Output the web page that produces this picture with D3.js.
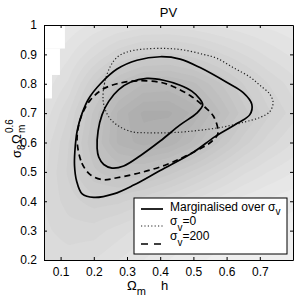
<!DOCTYPE html>
<html>
<head>
<meta charset="utf-8">
<script src="https://cdn.jsdelivr.net/npm/d3@7"></script>
<style>
  body { margin: 0; background: #fff; }
  text { font-family: "Liberation Sans", Arial, Helvetica, sans-serif; fill: #000; }
</style>
</head>
<body>
<svg id="chart" width="300" height="299"></svg>
<script>
// ticks
var xTicks = [0.1, 0.2, 0.3, 0.4, 0.5, 0.6, 0.7];
var yTicks = [0.2, 0.3, 0.4, 0.5, 0.6, 0.7, 0.8, 0.9, 1];

// background shading, grey level
// columns at Omega_m h = 0.05, 0.125, ... 0.8 ; rows at sigma8 Om^0.6 = 1.0 down to 0.2
var shadeX = [0.05, 0.125, 0.2, 0.275, 0.35, 0.425, 0.5, 0.575, 0.65, 0.725, 0.8];
var shadeY = [1.0, 0.9, 0.8, 0.7, 0.6, 0.5, 0.4, 0.3, 0.2];
var shadeGrey = [
  [235, 232, 228, 225, 223, 223, 224, 226, 228, 230, 232],
  [232, 226, 218, 210, 205, 204, 207, 212, 217, 222, 226],
  [228, 220, 205, 192, 185, 184, 188, 196, 205, 213, 219],
  [224, 213, 196, 180, 172, 172, 178, 188, 199, 208, 215],
  [220, 209, 193, 180, 175, 178, 186, 197, 207, 215, 221],
  [218, 208, 198, 193, 194, 199, 206, 213, 220, 225, 229],
  [217, 211, 207, 208, 212, 217, 222, 227, 231, 234, 236],
  [218, 215, 215, 219, 223, 228, 232, 235, 237, 238, 239],
  [220, 219, 221, 225, 229, 233, 236, 238, 239, 240, 240]
];
// unshaded (white) steps in the top-left corner
var blankTop = [1.0, 0.92, 0.83];
var blankBottom = [0.92, 0.83, 0.75];
var blankRight = [0.113, 0.098, 0.074];

// contours
var margOuter = [[0.142,0.52],[0.143,0.57],[0.150,0.64],[0.165,0.70],[0.185,0.75],[0.22,0.80],[0.27,0.85],
  [0.33,0.88],[0.40,0.892],[0.46,0.884],[0.52,0.855],[0.60,0.805],[0.65,0.77],[0.676,0.73],[0.67,0.695],
  [0.635,0.667],[0.565,0.62],[0.50,0.567],[0.40,0.505],[0.32,0.455],[0.26,0.425],[0.20,0.413],
  [0.165,0.425],[0.148,0.47]];
var margInner = [[0.21,0.58],[0.213,0.64],[0.225,0.695],[0.245,0.74],[0.275,0.78],[0.31,0.805],[0.36,0.818],
  [0.41,0.812],[0.46,0.795],[0.495,0.775],[0.518,0.75],[0.528,0.728],[0.51,0.70],[0.46,0.66],[0.40,0.605],
  [0.34,0.555],[0.29,0.52],[0.255,0.513],[0.23,0.525],[0.215,0.55]];
var sigma0 = [[0.228,0.745],[0.232,0.80],[0.249,0.857],[0.27,0.89],[0.30,0.908],[0.35,0.918],[0.42,0.92],
  [0.47,0.915],[0.53,0.90],[0.57,0.887],[0.62,0.855],[0.67,0.823],[0.70,0.795],[0.73,0.765],[0.74,0.735],
  [0.73,0.705],[0.70,0.685],[0.655,0.67],[0.60,0.655],[0.55,0.646],[0.48,0.637],[0.42,0.633],[0.36,0.633],
  [0.318,0.636],[0.279,0.653],[0.25,0.68],[0.235,0.71]];
var sigma200 = [[0.150,0.60],[0.164,0.53],[0.19,0.49],[0.228,0.473],[0.27,0.48],[0.35,0.50],[0.42,0.525],
  [0.47,0.55],[0.51,0.573],[0.545,0.595],[0.572,0.625],[0.574,0.645],[0.56,0.69],[0.535,0.72],[0.49,0.76],
  [0.44,0.79],[0.40,0.805],[0.33,0.81],[0.27,0.80],[0.225,0.78],[0.19,0.745],[0.166,0.70],[0.153,0.65]];

// legend
var legendMain = ["Marginalised over σ", "σ", "σ"];
var legendSub = ["v", "v", "v"];
var legendTail = ["", "=0", "=200"];

var svg = d3.select("#chart");
var x = d3.scaleLinear().domain([0.05, 0.8]).range([44, 293]);
var y = d3.scaleLinear().domain([0.2, 1]).range([260, 25]);

svg.append("defs").append("clipPath").attr("id", "plotclip")
  .append("rect").attr("x", 44).attr("y", 25).attr("width", 249).attr("height", 235);

// ---- background shading
var step = 2;
var nx = Math.ceil(249 / step) + 1, ny = Math.ceil(235 / step) + 1;
var cx = d3.scaleLinear().domain([shadeX[0], shadeX[shadeX.length - 1]]).range([0, shadeX.length - 1]);
var cy = d3.scaleLinear().domain([shadeY[0], shadeY[shadeY.length - 1]]).range([0, shadeY.length - 1]);
function greyAt(dx, dy) {
  var u = Math.max(0, Math.min(shadeX.length - 1.0001, cx(dx)));
  var v = Math.max(0, Math.min(shadeY.length - 1.0001, cy(dy)));
  var i = Math.floor(u), j = Math.floor(v), fu = u - i, fv = v - j;
  var a = shadeGrey[j][i], b = shadeGrey[j][i + 1], c = shadeGrey[j + 1][i], d = shadeGrey[j + 1][i + 1];
  return (a * (1 - fu) + b * fu) * (1 - fv) + (c * (1 - fu) + d * fu) * fv;
}
var values = new Array(nx * ny);
for (var j = 0; j < ny; j++) {
  for (var i = 0; i < nx; i++) {
    values[j * nx + i] = 255 - greyAt(x.invert(44 + i * step), y.invert(25 + j * step));
  }
}
var thresholds = d3.range(14, 90, 4);
var contours = d3.contours().size([nx, ny]).thresholds(thresholds)(values);
var toPx = d3.geoPath(d3.geoTransform({
  point: function(px, py) { this.stream.point(44 + (px - 0.5) * step, 25 + (py - 0.5) * step); }
}));

var bg = svg.append("g").attr("clip-path", "url(#plotclip)");
bg.append("rect").attr("x", 44).attr("y", 25).attr("width", 249).attr("height", 235)
  .attr("fill", "rgb(243,243,243)");
bg.selectAll("path.band").data(contours).enter().append("path")
  .attr("class", "band")
  .attr("d", toPx)
  .attr("fill", function(d) { var g = Math.round(255 - d.value - 2); return "rgb(" + g + "," + g + "," + g + ")"; });
bg.selectAll("rect.blank").data(blankTop).enter().append("rect")
  .attr("class", "blank")
  .attr("x", x(0.05))
  .attr("y", function(d) { return y(d); })
  .attr("width", function(d, i) { return x(blankRight[i]) - x(0.05); })
  .attr("height", function(d, i) { return y(blankBottom[i]) - y(d); })
  .attr("fill", "#fff");

// ---- contour lines
var line = d3.line().x(function(d) { return x(d[0]); }).y(function(d) { return y(d[1]); })
  .curve(d3.curveCatmullRomClosed.alpha(0.5));
var lines = svg.append("g").attr("clip-path", "url(#plotclip)").attr("fill", "none").attr("stroke", "#000");
lines.append("path").attr("d", line(sigma0)).attr("stroke", "#222").attr("stroke-width", 1.2).attr("stroke-dasharray", "1.2,2.2");
lines.append("path").attr("d", line(sigma200)).attr("stroke-width", 1.7).attr("stroke-dasharray", "6,4");
lines.append("path").attr("d", line(margOuter)).attr("stroke-width", 1.7);
lines.append("path").attr("d", line(margInner)).attr("stroke-width", 1.7);

// ---- axes
function fmt(d) { return String(d); }
function styleAxis(g) {
  g.attr("font-family", null).attr("font-size", null);
  g.selectAll("text").style("font-size", "12px");
  g.select(".domain").attr("stroke", "#000");
  g.selectAll(".tick line").attr("stroke", "#000");
}
svg.append("g").attr("transform", "translate(0,260)")
  .call(d3.axisBottom(x).tickValues(xTicks).tickSizeInner(-3).tickSizeOuter(0).tickPadding(7).tickFormat(fmt))
  .call(styleAxis);
svg.append("g").attr("transform", "translate(44,0)")
  .call(d3.axisLeft(y).tickValues(yTicks).tickSizeInner(-3).tickSizeOuter(0).tickPadding(7).tickFormat(fmt))
  .call(styleAxis);
svg.append("g").attr("transform", "translate(0,25)")
  .call(d3.axisTop(x).tickValues(xTicks).tickSizeInner(-3).tickSizeOuter(0).tickFormat(""))
  .call(styleAxis);
svg.append("g").attr("transform", "translate(293,0)")
  .call(d3.axisRight(y).tickValues(yTicks).tickSizeInner(-3).tickSizeOuter(0).tickFormat(""))
  .call(styleAxis);

// ---- title and axis labels
svg.append("text").attr("x", 168.5).attr("y", 17).attr("text-anchor", "middle")
  .style("font-size", "13px").text("PV");

var xl = svg.append("text").attr("x", 127).attr("y", 290).style("font-size", "13px");
xl.append("tspan").text("Ω");
xl.append("tspan").attr("dy", 5).style("font-size", "11px").text("m");
xl.append("tspan").attr("x", 161).attr("dy", -5).text("h");

// y label pieces: [text, baseline x, start y, size]
var yLabelParts = [["σ", 21, 158, 13], ["8", 25, 150, 10], ["Ω", 21, 144, 13], ["0.6", 13, 133, 10], ["m", 25, 133, 10]];
svg.selectAll("text.ylab").data(yLabelParts).enter().append("text")
  .attr("class", "ylab")
  .attr("transform", function(d) { return "translate(" + d[1] + "," + d[2] + ") rotate(-90)"; })
  .style("font-size", function(d) { return d[3] + "px"; })
  .text(function(d) { return d[0]; });

// ---- legend
var lg = svg.append("g");
lg.append("rect").attr("x", 134).attr("y", 198).attr("width", 153).attr("height", 56)
  .attr("fill", "#fff").attr("stroke", "#000").attr("stroke-width", 1);
var lineY = [209, 226, 244], textY = [211, 225, 240];
var dashes = [null, "1.2,2.2", "7,6"], widths = [1.7, 1.2, 1.7];
legendMain.forEach(function(t, i) {
  lg.append("line").attr("x1", 141).attr("x2", 163).attr("y1", lineY[i]).attr("y2", lineY[i])
    .attr("stroke", i === 1 ? "#222" : "#000").attr("stroke-width", widths[i]).attr("stroke-dasharray", dashes[i]);
  var tx = lg.append("text").attr("x", 170).attr("y", textY[i]).style("font-size", "12px");
  tx.append("tspan").text(t);
  tx.append("tspan").attr("dy", i === 0 ? 4 : 6).style("font-size", "10px").text(legendSub[i]);
  if (legendTail[i]) tx.append("tspan").attr("dy", -6).text(legendTail[i]);
});
</script>
</body>
</html>
